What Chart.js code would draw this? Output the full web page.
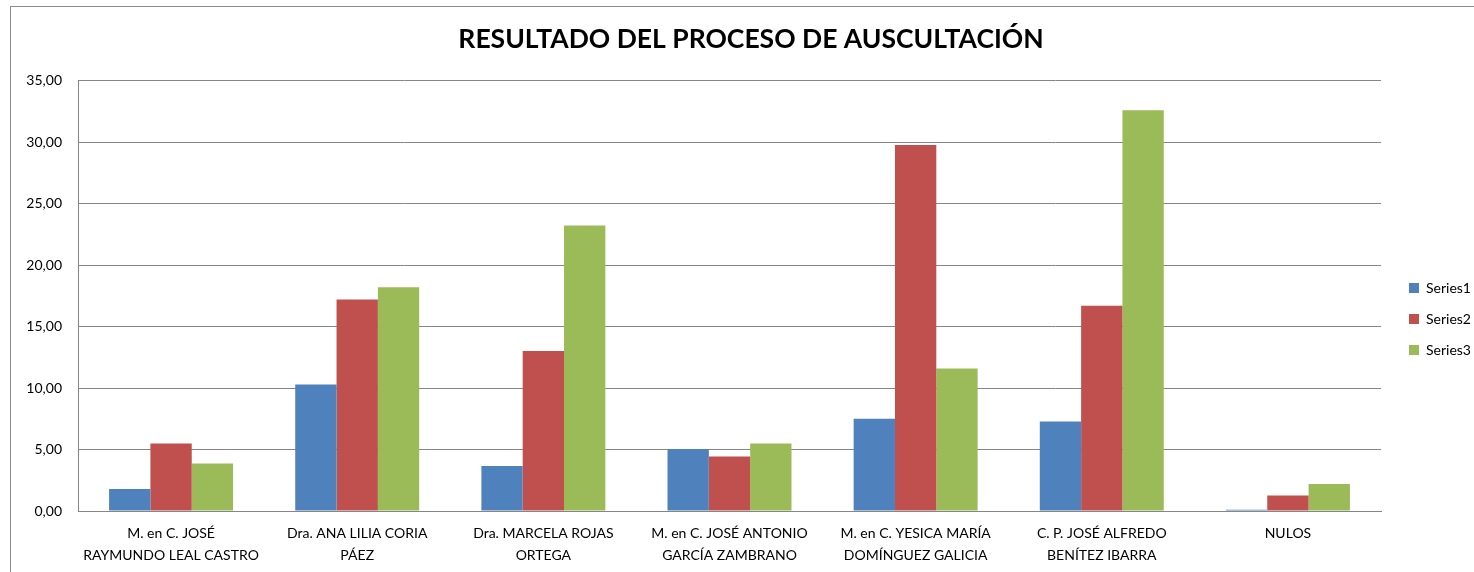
<!DOCTYPE html>
<html>
<head>
<meta charset="utf-8">
<script src="https://cdn.jsdelivr.net/npm/chart.js@4/dist/chart.umd.min.js"></script>
<style>
  html, body { margin: 0; padding: 0; background: #fff; }
  #wrap { position: relative; width: 1474px; height: 572px; overflow: hidden; }
  #frame { position: absolute; left: 10px; top: 6px; width: 1600px; height: 700px; border: 1px solid #8c8c8c; box-sizing: border-box; }
  canvas { position: absolute; left: 0; top: 0; }
</style>
</head>
<body>
<div id="wrap">
  <div id="frame"></div>
  <canvas id="c" width="1474" height="572"></canvas>
</div>
<script>
const titleText = 'RESULTADO DEL PROCESO DE AUSCULTACIÓN';
const categories = [
  ['M. en C. JOSÉ', 'RAYMUNDO LEAL CASTRO'],
  ['Dra. ANA LILIA CORIA', 'PÁEZ'],
  ['Dra. MARCELA ROJAS', 'ORTEGA'],
  ['M. en C. JOSÉ ANTONIO', 'GARCÍA ZAMBRANO'],
  ['M. en C. YESICA MARÍA', 'DOMÍNGUEZ GALICIA'],
  ['C. P. JOSÉ ALFREDO', 'BENÍTEZ IBARRA'],
  ['NULOS']
];
const seriesNames = ['Series1', 'Series2', 'Series3'];
const series1 = [1.80, 10.30, 3.66, 5.04, 7.50, 7.28, 0.10];
const series2 = [5.50, 17.20, 13.02, 4.44, 29.78, 16.70, 1.27];
const series3 = [3.87, 18.20, 23.23, 5.50, 11.59, 32.60, 2.19];
const yTickMin = 0, yTickMax = 35, yTickStep = 5;

const colors = ['#4F81BD', '#C0504D', '#9BBB59'];
const FONT = 'Lato, "Open Sans", sans-serif';

const layoutFix = {
  id: 'layoutFix',
  beforeUpdate(chart) {
    const lg = chart.legend;
    if (lg && !lg._patched) {
      const f = lg.fit.bind(lg);
      lg.fit = function () { f(); this.width = 93; };
      lg._patched = true;
    }
  },
  afterLayout(chart) {
    const lg = chart.legend;
    lg.left += 11; lg.right += 11;
    lg.top += 30; lg.bottom += 30;
    const t = chart.titleBlock;
    if (t) { t.left += 14; t.right += 14; }
  }
};

new Chart(document.getElementById('c'), {
  type: 'bar',
  data: {
    labels: categories,
    datasets: [series1, series2, series3].map((d, i) => ({
      label: seriesNames[i],
      data: d,
      backgroundColor: colors[i],
      borderWidth: 0,
      barPercentage: 1.0,
      categoryPercentage: 0.666
    }))
  },
  options: {
    responsive: false,
    animation: false,
    devicePixelRatio: 1,
    layout: { padding: { left: 0, right: 0, top: 6, bottom: 0 } },
    plugins: {
      title: {
        display: true,
        text: titleText,
        color: '#000',
        font: { family: FONT, size: 26.5, weight: 'bold' },
        padding: { top: 18, bottom: 25 }
      },
      legend: {
        position: 'right',
        align: 'center',
        labels: {
          color: '#000',
          font: { family: FONT, size: 14 },
          boxWidth: 10,
          boxHeight: 10,
          padding: 17
        }
      },
      tooltip: { enabled: false }
    },
    scales: {
      x: {
        grid: { display: false, drawTicks: false },
        border: { display: true, color: '#868686', width: 1 },
        ticks: {
          color: '#000',
          font: { family: FONT, size: 14, lineHeight: 1.6 },
          padding: 11,
          maxRotation: 0,
          autoSkip: false
        },
        afterFit(scale) { scale.height = 61; }
      },
      y: {
        min: yTickMin,
        max: yTickMax,
        grid: { color: '#868686', drawTicks: false },
        border: { display: true, color: '#868686', width: 1 },
        ticks: {
          stepSize: yTickStep,
          color: '#000',
          font: { family: FONT, size: 14 },
          padding: 16,
          callback: v => Number(v).toFixed(2).replace('.', ',')
        },
        afterFit(scale) { scale.width = 78; }
      }
    }
  },
  plugins: [layoutFix]
});
</script>
</body>
</html>
